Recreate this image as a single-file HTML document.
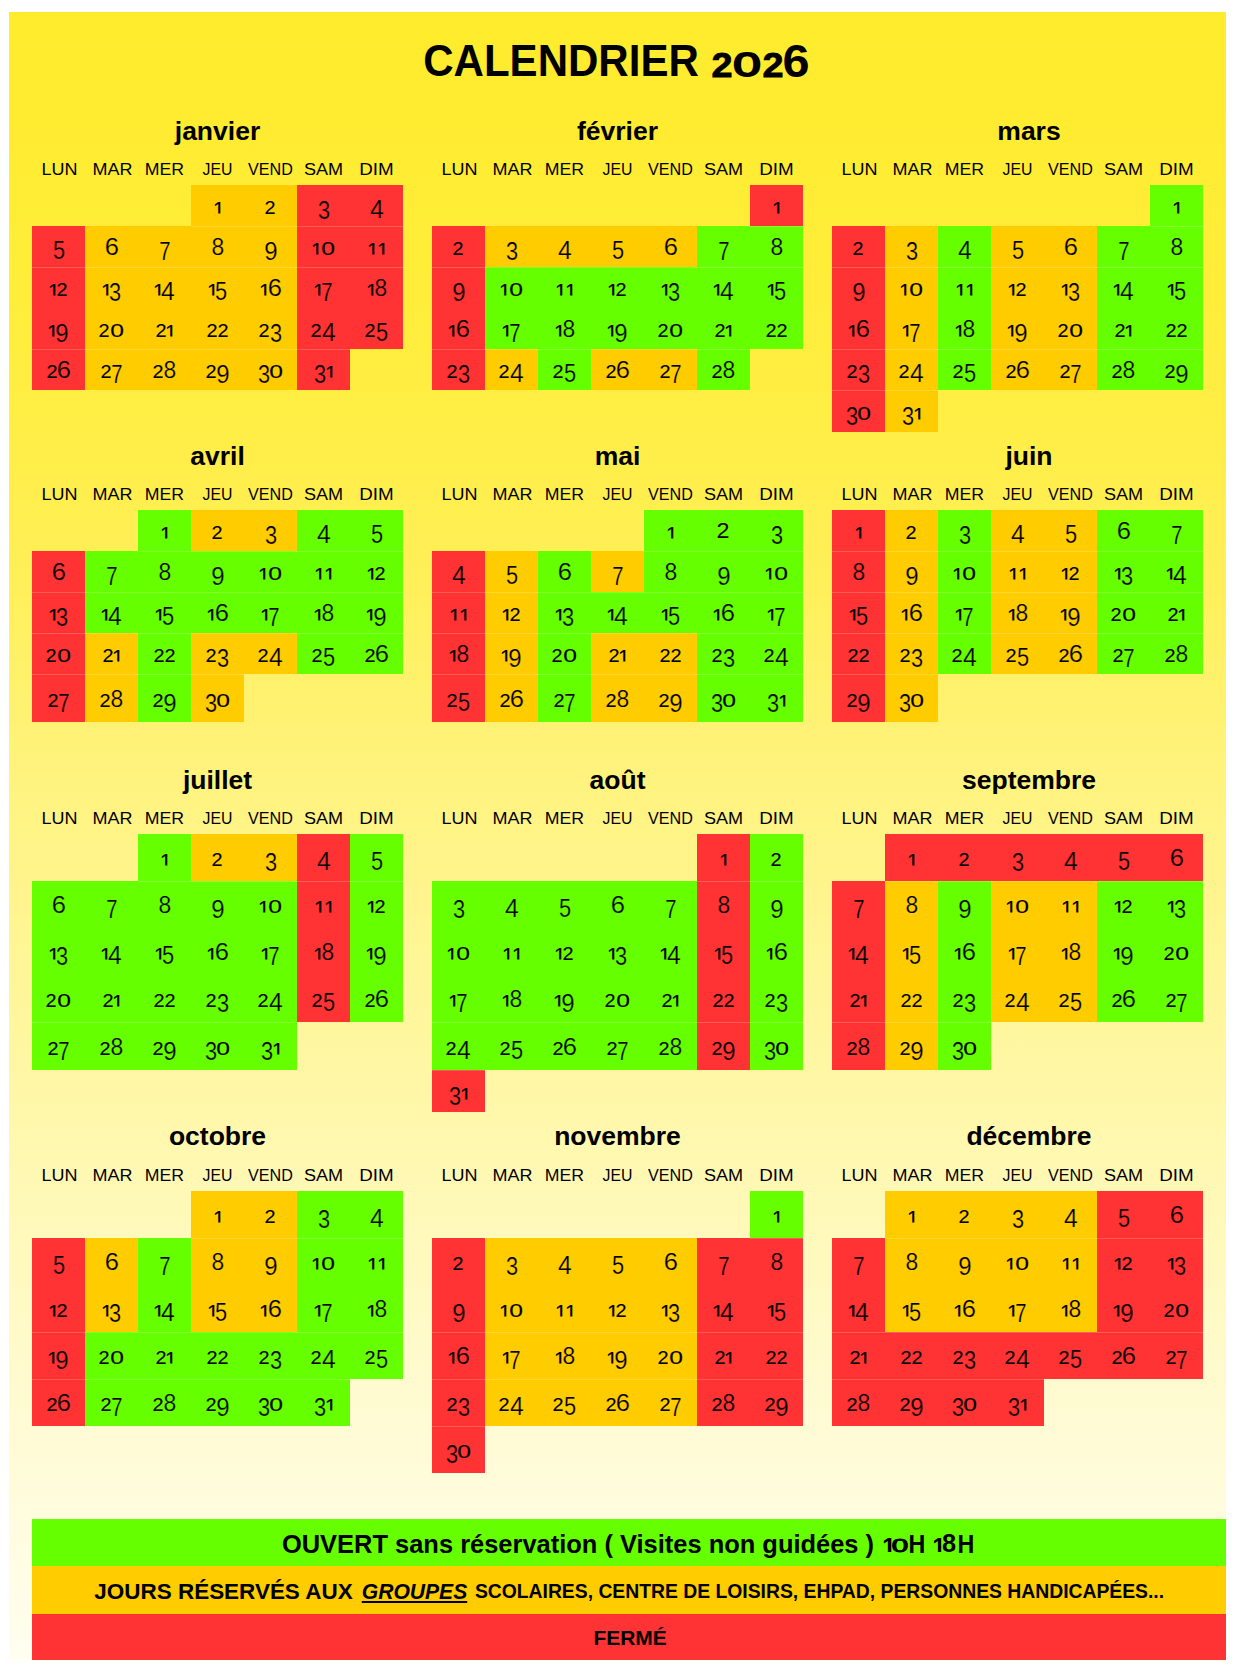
<!DOCTYPE html>
<html lang="fr"><head><meta charset="utf-8"><title>Calendrier 2026</title>
<style>
html,body{margin:0;padding:0}
body{width:1240px;height:1674px;position:relative;overflow:hidden;background:#fff;font-family:"Liberation Sans",sans-serif;color:#000}
#bg{position:absolute;left:9px;top:12px;width:1217px;height:1649px;background:linear-gradient(to bottom,#ffec2c 0%,#ffec30 5%,#ffed3a 17.5%,#ffee48 26.6%,#fff05c 35.7%,#fff273 43%,#fff37f 46.6%,#fff7a8 66%,#fff8b0 69%,#fffbd7 87.2%,#fffcdc 90%,#fffef0 100%)}
.c{position:absolute;width:53px;text-align:center;font-size:25px;white-space:nowrap}
.r{background:#ff3333}.o{background:#ffcc00}.g{background:#66ff00}
.c b{display:block;position:relative;top:-0.2px;font-weight:normal}
.c i{display:inline-block;font-style:normal;line-height:1}
.t{position:absolute;height:40px;line-height:40px;white-space:nowrap;text-align:center}
.m{font-weight:bold;font-size:26.5px;width:300px}
.w{font-size:15.8px;width:53px}
.lg{position:absolute;left:32px;width:1194px}
.s{position:absolute;height:1px;background:rgba(255,255,225,.2)}
.r i{-webkit-text-stroke-color:#ff3333}.o i{-webkit-text-stroke-color:#ffcc00}.g i{-webkit-text-stroke-color:#66ff00}

.w0{transform:scaleX(1.14)}
.w1{transform:scaleX(1.14)}
.w2{transform:scaleX(1.12)}
.w3{transform:scaleX(1.0)}
.w4{transform:scaleX(1.02)}
.w5{transform:scaleX(1.145)}
.w6{transform:scaleX(1.19)}
.c i.d0{font-size:18.4px;margin:0 1.83px;transform:translate(0px,0px) scaleX(1.34);-webkit-text-stroke:0.12px #000;}
.c i.d1{font-size:20.2px;margin:0 -1.77px;transform:translate(1.2px,1.95px) scaleX(1.03);-webkit-text-stroke:0.2px #000;clip-path:inset(0 0 5.45px 0);}
.c i.d2{font-size:18.4px;margin:0 0.48px;transform:translate(0px,0px) scaleX(1.08);-webkit-text-stroke:0.12px #000;}
.c i.d3{font-size:25px;margin:0 -0.85px;transform:translate(0px,5.2px) scaleX(0.87);-webkit-text-stroke-width:0.22px;}
.c i.d4{font-size:25px;margin:0 0.15px;transform:translate(0px,4.0px) scaleX(0.99);-webkit-text-stroke-width:0.22px;}
.c i.d5{font-size:25px;margin:0 -0.85px;transform:translate(0px,4.4px) scaleX(0.87);-webkit-text-stroke-width:0.22px;}
.c i.d6{font-size:24.6px;margin:0 -0.04px;transform:translate(0px,0px) scaleX(1.04);-webkit-text-stroke-width:0.22px;}
.c i.d7{font-size:25px;margin:0 -1.45px;transform:translate(0px,4.7px) scaleX(0.81);-webkit-text-stroke-width:0.22px;}
.c i.d8{font-size:24.6px;margin:0 -0.59px;transform:translate(0px,0px) scaleX(0.93);-webkit-text-stroke-width:0.22px;}
.c i.d9{font-size:25px;margin:0 -0.45px;transform:translate(0px,5.3px) scaleX(0.96);-webkit-text-stroke-width:0.22px;}
.c i.dL{font-size:21.8px;margin:0 -0.06px;transform:translate(0px,-1.5px) scaleX(1.07);}
</style></head>
<body>
<div id="bg"></div>
<div class="t" style="left:61.20px;width:1000px;top:41.42px;font-size:43.8px;transform:scaleX(0.96);font-weight:bold">CALENDRIER</div>
<div class="t" style="left:692.20px;width:60px;top:44.58px;font-size:34.7px;transform:scaleX(1.09);font-weight:bold;-webkit-text-stroke:0.8px #000;">2</div>
<div class="t" style="left:717.45px;width:60px;top:45.23px;font-size:32.8px;transform:scaleX(1.51);font-weight:normal;-webkit-text-stroke:1.8px #000;">0</div>
<div class="t" style="left:743.20px;width:60px;top:44.58px;font-size:34.7px;transform:scaleX(1.09);font-weight:bold;-webkit-text-stroke:0.8px #000;">2</div>
<div class="t" style="left:766.25px;width:60px;top:40.70px;font-size:45.9px;transform:scaleX(1.06);font-weight:bold;">6</div>
<div class="t m" style="left:67.5px;top:110.62px">janvier</div>
<div class="t w w0" style="left:33px;top:149.83px">LUN</div>
<div class="t w w1" style="left:85.5px;top:149.83px">MAR</div>
<div class="t w w2" style="left:138px;top:149.83px">MER</div>
<div class="t w w3" style="left:191px;top:149.83px">JEU</div>
<div class="t w w4" style="left:244px;top:149.83px">VEND</div>
<div class="t w w5" style="left:297px;top:149.83px">SAM</div>
<div class="t w w6" style="left:350px;top:149.83px">DIM</div>
<div class="c o" style="left:191px;top:185px;height:41px;line-height:41px"><b><i class="d1">1</i></b></div>
<div class="c o" style="left:244px;top:185px;height:41px;line-height:41px"><b><i class="d2">2</i></b></div>
<div class="c r" style="left:297px;top:185px;height:41px;line-height:41px"><b><i class="d3">3</i></b></div>
<div class="c r" style="left:350px;top:185px;height:41px;line-height:41px"><b><i class="d4">4</i></b></div>
<div class="c r" style="left:32px;top:226px;height:41px;line-height:41px"><b><i class="d5">5</i></b></div>
<div class="c o" style="left:85px;top:226px;height:41px;line-height:41px"><b><i class="d6">6</i></b></div>
<div class="c o" style="left:138px;top:226px;height:41px;line-height:41px"><b><i class="d7">7</i></b></div>
<div class="c o" style="left:191px;top:226px;height:41px;line-height:41px"><b><i class="d8">8</i></b></div>
<div class="c o" style="left:244px;top:226px;height:41px;line-height:41px"><b><i class="d9">9</i></b></div>
<div class="c r" style="left:297px;top:226px;height:41px;line-height:41px"><b><i class="d1" style="margin-right:-0.47px">1</i><i class="d0">0</i></b></div>
<div class="c r" style="left:350px;top:226px;height:41px;line-height:41px"><b><i class="d1" style="margin-right:1.23px">1</i><i class="d1">1</i></b></div>
<div class="c r" style="left:32px;top:267px;height:41px;line-height:41px"><b><i class="d1">1</i><i class="d2">2</i></b></div>
<div class="c o" style="left:85px;top:267px;height:41px;line-height:41px"><b><i class="d1">1</i><i class="d3">3</i></b></div>
<div class="c o" style="left:138px;top:267px;height:41px;line-height:41px"><b><i class="d1">1</i><i class="d4">4</i></b></div>
<div class="c o" style="left:191px;top:267px;height:41px;line-height:41px"><b><i class="d1">1</i><i class="d5">5</i></b></div>
<div class="c o" style="left:244px;top:267px;height:41px;line-height:41px"><b><i class="d1">1</i><i class="d6">6</i></b></div>
<div class="c r" style="left:297px;top:267px;height:41px;line-height:41px"><b><i class="d1">1</i><i class="d7">7</i></b></div>
<div class="c r" style="left:350px;top:267px;height:41px;line-height:41px"><b><i class="d1">1</i><i class="d8">8</i></b></div>
<div class="c r" style="left:32px;top:308px;height:41px;line-height:41px"><b><i class="d1">1</i><i class="d9">9</i></b></div>
<div class="c o" style="left:85px;top:308px;height:41px;line-height:41px"><b><i class="d2">2</i><i class="d0">0</i></b></div>
<div class="c o" style="left:138px;top:308px;height:41px;line-height:41px"><b><i class="d2">2</i><i class="d1">1</i></b></div>
<div class="c o" style="left:191px;top:308px;height:41px;line-height:41px"><b><i class="d2">2</i><i class="d2">2</i></b></div>
<div class="c o" style="left:244px;top:308px;height:41px;line-height:41px"><b><i class="d2">2</i><i class="d3">3</i></b></div>
<div class="c r" style="left:297px;top:308px;height:41px;line-height:41px"><b><i class="d2">2</i><i class="d4">4</i></b></div>
<div class="c r" style="left:350px;top:308px;height:41px;line-height:41px"><b><i class="d2">2</i><i class="d5">5</i></b></div>
<div class="c r" style="left:32px;top:349px;height:41px;line-height:41px"><b><i class="d2">2</i><i class="d6">6</i></b></div>
<div class="c o" style="left:85px;top:349px;height:41px;line-height:41px"><b><i class="d2">2</i><i class="d7">7</i></b></div>
<div class="c o" style="left:138px;top:349px;height:41px;line-height:41px"><b><i class="d2">2</i><i class="d8">8</i></b></div>
<div class="c o" style="left:191px;top:349px;height:41px;line-height:41px"><b><i class="d2">2</i><i class="d9">9</i></b></div>
<div class="c o" style="left:244px;top:349px;height:41px;line-height:41px"><b><i class="d3">3</i><i class="d0">0</i></b></div>
<div class="c r" style="left:297px;top:349px;height:41px;line-height:41px"><b><i class="d3">3</i><i class="d1">1</i></b></div>
<div class="t m" style="left:467.5px;top:110.62px">février</div>
<div class="t w w0" style="left:433px;top:149.83px">LUN</div>
<div class="t w w1" style="left:485.5px;top:149.83px">MAR</div>
<div class="t w w2" style="left:538px;top:149.83px">MER</div>
<div class="t w w3" style="left:591px;top:149.83px">JEU</div>
<div class="t w w4" style="left:644px;top:149.83px">VEND</div>
<div class="t w w5" style="left:697px;top:149.83px">SAM</div>
<div class="t w w6" style="left:750px;top:149.83px">DIM</div>
<div class="c r" style="left:750px;top:185px;height:41px;line-height:41px"><b><i class="d1">1</i></b></div>
<div class="c r" style="left:432px;top:226px;height:41px;line-height:41px"><b><i class="d2">2</i></b></div>
<div class="c o" style="left:485px;top:226px;height:41px;line-height:41px"><b><i class="d3">3</i></b></div>
<div class="c o" style="left:538px;top:226px;height:41px;line-height:41px"><b><i class="d4">4</i></b></div>
<div class="c o" style="left:591px;top:226px;height:41px;line-height:41px"><b><i class="d5">5</i></b></div>
<div class="c o" style="left:644px;top:226px;height:41px;line-height:41px"><b><i class="d6">6</i></b></div>
<div class="c g" style="left:697px;top:226px;height:41px;line-height:41px"><b><i class="d7">7</i></b></div>
<div class="c g" style="left:750px;top:226px;height:41px;line-height:41px"><b><i class="d8">8</i></b></div>
<div class="c r" style="left:432px;top:267px;height:41px;line-height:41px"><b><i class="d9">9</i></b></div>
<div class="c g" style="left:485px;top:267px;height:41px;line-height:41px"><b><i class="d1" style="margin-right:-0.47px">1</i><i class="d0">0</i></b></div>
<div class="c g" style="left:538px;top:267px;height:41px;line-height:41px"><b><i class="d1" style="margin-right:1.23px">1</i><i class="d1">1</i></b></div>
<div class="c g" style="left:591px;top:267px;height:41px;line-height:41px"><b><i class="d1">1</i><i class="d2">2</i></b></div>
<div class="c g" style="left:644px;top:267px;height:41px;line-height:41px"><b><i class="d1">1</i><i class="d3">3</i></b></div>
<div class="c g" style="left:697px;top:267px;height:41px;line-height:41px"><b><i class="d1">1</i><i class="d4">4</i></b></div>
<div class="c g" style="left:750px;top:267px;height:41px;line-height:41px"><b><i class="d1">1</i><i class="d5">5</i></b></div>
<div class="c r" style="left:432px;top:308px;height:41px;line-height:41px"><b><i class="d1">1</i><i class="d6">6</i></b></div>
<div class="c g" style="left:485px;top:308px;height:41px;line-height:41px"><b><i class="d1">1</i><i class="d7">7</i></b></div>
<div class="c g" style="left:538px;top:308px;height:41px;line-height:41px"><b><i class="d1">1</i><i class="d8">8</i></b></div>
<div class="c g" style="left:591px;top:308px;height:41px;line-height:41px"><b><i class="d1">1</i><i class="d9">9</i></b></div>
<div class="c g" style="left:644px;top:308px;height:41px;line-height:41px"><b><i class="d2">2</i><i class="d0">0</i></b></div>
<div class="c g" style="left:697px;top:308px;height:41px;line-height:41px"><b><i class="d2">2</i><i class="d1">1</i></b></div>
<div class="c g" style="left:750px;top:308px;height:41px;line-height:41px"><b><i class="d2">2</i><i class="d2">2</i></b></div>
<div class="c r" style="left:432px;top:349px;height:41px;line-height:41px"><b><i class="d2">2</i><i class="d3">3</i></b></div>
<div class="c o" style="left:485px;top:349px;height:41px;line-height:41px"><b><i class="d2">2</i><i class="d4">4</i></b></div>
<div class="c g" style="left:538px;top:349px;height:41px;line-height:41px"><b><i class="d2">2</i><i class="d5">5</i></b></div>
<div class="c o" style="left:591px;top:349px;height:41px;line-height:41px"><b><i class="d2">2</i><i class="d6">6</i></b></div>
<div class="c o" style="left:644px;top:349px;height:41px;line-height:41px"><b><i class="d2">2</i><i class="d7">7</i></b></div>
<div class="c g" style="left:697px;top:349px;height:41px;line-height:41px"><b><i class="d2">2</i><i class="d8">8</i></b></div>
<div class="t m" style="left:879px;top:110.62px">mars</div>
<div class="t w w0" style="left:833px;top:149.83px">LUN</div>
<div class="t w w1" style="left:885.5px;top:149.83px">MAR</div>
<div class="t w w2" style="left:938px;top:149.83px">MER</div>
<div class="t w w3" style="left:991px;top:149.83px">JEU</div>
<div class="t w w4" style="left:1044px;top:149.83px">VEND</div>
<div class="t w w5" style="left:1097px;top:149.83px">SAM</div>
<div class="t w w6" style="left:1150px;top:149.83px">DIM</div>
<div class="c g" style="left:1150px;top:185px;height:41px;line-height:41px"><b><i class="d1">1</i></b></div>
<div class="c r" style="left:832px;top:226px;height:41px;line-height:41px"><b><i class="d2">2</i></b></div>
<div class="c o" style="left:885px;top:226px;height:41px;line-height:41px"><b><i class="d3">3</i></b></div>
<div class="c g" style="left:938px;top:226px;height:41px;line-height:41px"><b><i class="d4">4</i></b></div>
<div class="c o" style="left:991px;top:226px;height:41px;line-height:41px"><b><i class="d5">5</i></b></div>
<div class="c o" style="left:1044px;top:226px;height:41px;line-height:41px"><b><i class="d6">6</i></b></div>
<div class="c g" style="left:1097px;top:226px;height:41px;line-height:41px"><b><i class="d7">7</i></b></div>
<div class="c g" style="left:1150px;top:226px;height:41px;line-height:41px"><b><i class="d8">8</i></b></div>
<div class="c r" style="left:832px;top:267px;height:41px;line-height:41px"><b><i class="d9">9</i></b></div>
<div class="c o" style="left:885px;top:267px;height:41px;line-height:41px"><b><i class="d1" style="margin-right:-0.47px">1</i><i class="d0">0</i></b></div>
<div class="c g" style="left:938px;top:267px;height:41px;line-height:41px"><b><i class="d1" style="margin-right:1.23px">1</i><i class="d1">1</i></b></div>
<div class="c o" style="left:991px;top:267px;height:41px;line-height:41px"><b><i class="d1">1</i><i class="d2">2</i></b></div>
<div class="c o" style="left:1044px;top:267px;height:41px;line-height:41px"><b><i class="d1">1</i><i class="d3">3</i></b></div>
<div class="c g" style="left:1097px;top:267px;height:41px;line-height:41px"><b><i class="d1">1</i><i class="d4">4</i></b></div>
<div class="c g" style="left:1150px;top:267px;height:41px;line-height:41px"><b><i class="d1">1</i><i class="d5">5</i></b></div>
<div class="c r" style="left:832px;top:308px;height:41px;line-height:41px"><b><i class="d1">1</i><i class="d6">6</i></b></div>
<div class="c o" style="left:885px;top:308px;height:41px;line-height:41px"><b><i class="d1">1</i><i class="d7">7</i></b></div>
<div class="c g" style="left:938px;top:308px;height:41px;line-height:41px"><b><i class="d1">1</i><i class="d8">8</i></b></div>
<div class="c o" style="left:991px;top:308px;height:41px;line-height:41px"><b><i class="d1">1</i><i class="d9">9</i></b></div>
<div class="c o" style="left:1044px;top:308px;height:41px;line-height:41px"><b><i class="d2">2</i><i class="d0">0</i></b></div>
<div class="c g" style="left:1097px;top:308px;height:41px;line-height:41px"><b><i class="d2">2</i><i class="d1">1</i></b></div>
<div class="c g" style="left:1150px;top:308px;height:41px;line-height:41px"><b><i class="d2">2</i><i class="d2">2</i></b></div>
<div class="c r" style="left:832px;top:349px;height:41px;line-height:41px"><b><i class="d2">2</i><i class="d3">3</i></b></div>
<div class="c o" style="left:885px;top:349px;height:41px;line-height:41px"><b><i class="d2">2</i><i class="d4">4</i></b></div>
<div class="c g" style="left:938px;top:349px;height:41px;line-height:41px"><b><i class="d2">2</i><i class="d5">5</i></b></div>
<div class="c o" style="left:991px;top:349px;height:41px;line-height:41px"><b><i class="d2">2</i><i class="d6">6</i></b></div>
<div class="c o" style="left:1044px;top:349px;height:41px;line-height:41px"><b><i class="d2">2</i><i class="d7">7</i></b></div>
<div class="c g" style="left:1097px;top:349px;height:41px;line-height:41px"><b><i class="d2">2</i><i class="d8">8</i></b></div>
<div class="c g" style="left:1150px;top:349px;height:41px;line-height:41px"><b><i class="d2">2</i><i class="d9">9</i></b></div>
<div class="c r" style="left:832px;top:390px;height:42px;line-height:42px"><b><i class="d3">3</i><i class="d0">0</i></b></div>
<div class="c o" style="left:885px;top:390px;height:42px;line-height:42px"><b><i class="d3">3</i><i class="d1">1</i></b></div>
<div class="t m" style="left:67.5px;top:435.62px">avril</div>
<div class="t w w0" style="left:33px;top:474.83px">LUN</div>
<div class="t w w1" style="left:85.5px;top:474.83px">MAR</div>
<div class="t w w2" style="left:138px;top:474.83px">MER</div>
<div class="t w w3" style="left:191px;top:474.83px">JEU</div>
<div class="t w w4" style="left:244px;top:474.83px">VEND</div>
<div class="t w w5" style="left:297px;top:474.83px">SAM</div>
<div class="t w w6" style="left:350px;top:474.83px">DIM</div>
<div class="c g" style="left:138px;top:510px;height:41px;line-height:41px"><b><i class="d1">1</i></b></div>
<div class="c o" style="left:191px;top:510px;height:41px;line-height:41px"><b><i class="d2">2</i></b></div>
<div class="c o" style="left:244px;top:510px;height:41px;line-height:41px"><b><i class="d3">3</i></b></div>
<div class="c g" style="left:297px;top:510px;height:41px;line-height:41px"><b><i class="d4">4</i></b></div>
<div class="c g" style="left:350px;top:510px;height:41px;line-height:41px"><b><i class="d5">5</i></b></div>
<div class="c r" style="left:32px;top:551px;height:41px;line-height:41px"><b><i class="d6">6</i></b></div>
<div class="c g" style="left:85px;top:551px;height:41px;line-height:41px"><b><i class="d7">7</i></b></div>
<div class="c g" style="left:138px;top:551px;height:41px;line-height:41px"><b><i class="d8">8</i></b></div>
<div class="c g" style="left:191px;top:551px;height:41px;line-height:41px"><b><i class="d9">9</i></b></div>
<div class="c g" style="left:244px;top:551px;height:41px;line-height:41px"><b><i class="d1" style="margin-right:-0.47px">1</i><i class="d0">0</i></b></div>
<div class="c g" style="left:297px;top:551px;height:41px;line-height:41px"><b><i class="d1" style="margin-right:1.23px">1</i><i class="d1">1</i></b></div>
<div class="c g" style="left:350px;top:551px;height:41px;line-height:41px"><b><i class="d1">1</i><i class="d2">2</i></b></div>
<div class="c r" style="left:32px;top:592px;height:41px;line-height:41px"><b><i class="d1">1</i><i class="d3">3</i></b></div>
<div class="c g" style="left:85px;top:592px;height:41px;line-height:41px"><b><i class="d1">1</i><i class="d4">4</i></b></div>
<div class="c g" style="left:138px;top:592px;height:41px;line-height:41px"><b><i class="d1">1</i><i class="d5">5</i></b></div>
<div class="c g" style="left:191px;top:592px;height:41px;line-height:41px"><b><i class="d1">1</i><i class="d6">6</i></b></div>
<div class="c g" style="left:244px;top:592px;height:41px;line-height:41px"><b><i class="d1">1</i><i class="d7">7</i></b></div>
<div class="c g" style="left:297px;top:592px;height:41px;line-height:41px"><b><i class="d1">1</i><i class="d8">8</i></b></div>
<div class="c g" style="left:350px;top:592px;height:41px;line-height:41px"><b><i class="d1">1</i><i class="d9">9</i></b></div>
<div class="c r" style="left:32px;top:633px;height:41px;line-height:41px"><b><i class="d2">2</i><i class="d0">0</i></b></div>
<div class="c o" style="left:85px;top:633px;height:41px;line-height:41px"><b><i class="d2">2</i><i class="d1">1</i></b></div>
<div class="c g" style="left:138px;top:633px;height:41px;line-height:41px"><b><i class="d2">2</i><i class="d2">2</i></b></div>
<div class="c o" style="left:191px;top:633px;height:41px;line-height:41px"><b><i class="d2">2</i><i class="d3">3</i></b></div>
<div class="c o" style="left:244px;top:633px;height:41px;line-height:41px"><b><i class="d2">2</i><i class="d4">4</i></b></div>
<div class="c g" style="left:297px;top:633px;height:41px;line-height:41px"><b><i class="d2">2</i><i class="d5">5</i></b></div>
<div class="c g" style="left:350px;top:633px;height:41px;line-height:41px"><b><i class="d2">2</i><i class="d6">6</i></b></div>
<div class="c r" style="left:32px;top:674px;height:48px;line-height:48px"><b><i class="d2">2</i><i class="d7">7</i></b></div>
<div class="c o" style="left:85px;top:674px;height:48px;line-height:48px"><b><i class="d2">2</i><i class="d8">8</i></b></div>
<div class="c g" style="left:138px;top:674px;height:48px;line-height:48px"><b><i class="d2">2</i><i class="d9">9</i></b></div>
<div class="c o" style="left:191px;top:674px;height:48px;line-height:48px"><b><i class="d3">3</i><i class="d0">0</i></b></div>
<div class="t m" style="left:467.5px;top:435.62px">mai</div>
<div class="t w w0" style="left:433px;top:474.83px">LUN</div>
<div class="t w w1" style="left:485.5px;top:474.83px">MAR</div>
<div class="t w w2" style="left:538px;top:474.83px">MER</div>
<div class="t w w3" style="left:591px;top:474.83px">JEU</div>
<div class="t w w4" style="left:644px;top:474.83px">VEND</div>
<div class="t w w5" style="left:697px;top:474.83px">SAM</div>
<div class="t w w6" style="left:750px;top:474.83px">DIM</div>
<div class="c g" style="left:644px;top:510px;height:41px;line-height:41px"><b><i class="d1">1</i></b></div>
<div class="c g" style="left:697px;top:510px;height:41px;line-height:41px"><b><i class="dL">2</i></b></div>
<div class="c g" style="left:750px;top:510px;height:41px;line-height:41px"><b><i class="d3">3</i></b></div>
<div class="c r" style="left:432px;top:551px;height:41px;line-height:41px"><b><i class="d4">4</i></b></div>
<div class="c o" style="left:485px;top:551px;height:41px;line-height:41px"><b><i class="d5">5</i></b></div>
<div class="c g" style="left:538px;top:551px;height:41px;line-height:41px"><b><i class="d6">6</i></b></div>
<div class="c o" style="left:591px;top:551px;height:41px;line-height:41px"><b><i class="d7">7</i></b></div>
<div class="c g" style="left:644px;top:551px;height:41px;line-height:41px"><b><i class="d8">8</i></b></div>
<div class="c g" style="left:697px;top:551px;height:41px;line-height:41px"><b><i class="d9">9</i></b></div>
<div class="c g" style="left:750px;top:551px;height:41px;line-height:41px"><b><i class="d1" style="margin-right:-0.47px">1</i><i class="d0">0</i></b></div>
<div class="c r" style="left:432px;top:592px;height:41px;line-height:41px"><b><i class="d1" style="margin-right:1.23px">1</i><i class="d1">1</i></b></div>
<div class="c o" style="left:485px;top:592px;height:41px;line-height:41px"><b><i class="d1">1</i><i class="d2">2</i></b></div>
<div class="c g" style="left:538px;top:592px;height:41px;line-height:41px"><b><i class="d1">1</i><i class="d3">3</i></b></div>
<div class="c g" style="left:591px;top:592px;height:41px;line-height:41px"><b><i class="d1">1</i><i class="d4">4</i></b></div>
<div class="c g" style="left:644px;top:592px;height:41px;line-height:41px"><b><i class="d1">1</i><i class="d5">5</i></b></div>
<div class="c g" style="left:697px;top:592px;height:41px;line-height:41px"><b><i class="d1">1</i><i class="d6">6</i></b></div>
<div class="c g" style="left:750px;top:592px;height:41px;line-height:41px"><b><i class="d1">1</i><i class="d7">7</i></b></div>
<div class="c r" style="left:432px;top:633px;height:41px;line-height:41px"><b><i class="d1">1</i><i class="d8">8</i></b></div>
<div class="c o" style="left:485px;top:633px;height:41px;line-height:41px"><b><i class="d1">1</i><i class="d9">9</i></b></div>
<div class="c g" style="left:538px;top:633px;height:41px;line-height:41px"><b><i class="d2">2</i><i class="d0">0</i></b></div>
<div class="c o" style="left:591px;top:633px;height:41px;line-height:41px"><b><i class="d2">2</i><i class="d1">1</i></b></div>
<div class="c o" style="left:644px;top:633px;height:41px;line-height:41px"><b><i class="d2">2</i><i class="d2">2</i></b></div>
<div class="c g" style="left:697px;top:633px;height:41px;line-height:41px"><b><i class="d2">2</i><i class="d3">3</i></b></div>
<div class="c g" style="left:750px;top:633px;height:41px;line-height:41px"><b><i class="d2">2</i><i class="d4">4</i></b></div>
<div class="c r" style="left:432px;top:674px;height:48px;line-height:48px"><b><i class="d2">2</i><i class="d5">5</i></b></div>
<div class="c o" style="left:485px;top:674px;height:48px;line-height:48px"><b><i class="d2">2</i><i class="d6">6</i></b></div>
<div class="c g" style="left:538px;top:674px;height:48px;line-height:48px"><b><i class="d2">2</i><i class="d7">7</i></b></div>
<div class="c o" style="left:591px;top:674px;height:48px;line-height:48px"><b><i class="d2">2</i><i class="d8">8</i></b></div>
<div class="c o" style="left:644px;top:674px;height:48px;line-height:48px"><b><i class="d2">2</i><i class="d9">9</i></b></div>
<div class="c g" style="left:697px;top:674px;height:48px;line-height:48px"><b><i class="d3">3</i><i class="d0">0</i></b></div>
<div class="c g" style="left:750px;top:674px;height:48px;line-height:48px"><b><i class="d3">3</i><i class="d1">1</i></b></div>
<div class="t m" style="left:879px;top:435.62px">juin</div>
<div class="t w w0" style="left:833px;top:474.83px">LUN</div>
<div class="t w w1" style="left:885.5px;top:474.83px">MAR</div>
<div class="t w w2" style="left:938px;top:474.83px">MER</div>
<div class="t w w3" style="left:991px;top:474.83px">JEU</div>
<div class="t w w4" style="left:1044px;top:474.83px">VEND</div>
<div class="t w w5" style="left:1097px;top:474.83px">SAM</div>
<div class="t w w6" style="left:1150px;top:474.83px">DIM</div>
<div class="c r" style="left:832px;top:510px;height:41px;line-height:41px"><b><i class="d1">1</i></b></div>
<div class="c o" style="left:885px;top:510px;height:41px;line-height:41px"><b><i class="d2">2</i></b></div>
<div class="c g" style="left:938px;top:510px;height:41px;line-height:41px"><b><i class="d3">3</i></b></div>
<div class="c o" style="left:991px;top:510px;height:41px;line-height:41px"><b><i class="d4">4</i></b></div>
<div class="c o" style="left:1044px;top:510px;height:41px;line-height:41px"><b><i class="d5">5</i></b></div>
<div class="c g" style="left:1097px;top:510px;height:41px;line-height:41px"><b><i class="d6">6</i></b></div>
<div class="c g" style="left:1150px;top:510px;height:41px;line-height:41px"><b><i class="d7">7</i></b></div>
<div class="c r" style="left:832px;top:551px;height:41px;line-height:41px"><b><i class="d8">8</i></b></div>
<div class="c o" style="left:885px;top:551px;height:41px;line-height:41px"><b><i class="d9">9</i></b></div>
<div class="c g" style="left:938px;top:551px;height:41px;line-height:41px"><b><i class="d1" style="margin-right:-0.47px">1</i><i class="d0">0</i></b></div>
<div class="c o" style="left:991px;top:551px;height:41px;line-height:41px"><b><i class="d1" style="margin-right:1.23px">1</i><i class="d1">1</i></b></div>
<div class="c o" style="left:1044px;top:551px;height:41px;line-height:41px"><b><i class="d1">1</i><i class="d2">2</i></b></div>
<div class="c g" style="left:1097px;top:551px;height:41px;line-height:41px"><b><i class="d1">1</i><i class="d3">3</i></b></div>
<div class="c g" style="left:1150px;top:551px;height:41px;line-height:41px"><b><i class="d1">1</i><i class="d4">4</i></b></div>
<div class="c r" style="left:832px;top:592px;height:41px;line-height:41px"><b><i class="d1">1</i><i class="d5">5</i></b></div>
<div class="c o" style="left:885px;top:592px;height:41px;line-height:41px"><b><i class="d1">1</i><i class="d6">6</i></b></div>
<div class="c g" style="left:938px;top:592px;height:41px;line-height:41px"><b><i class="d1">1</i><i class="d7">7</i></b></div>
<div class="c o" style="left:991px;top:592px;height:41px;line-height:41px"><b><i class="d1">1</i><i class="d8">8</i></b></div>
<div class="c o" style="left:1044px;top:592px;height:41px;line-height:41px"><b><i class="d1">1</i><i class="d9">9</i></b></div>
<div class="c g" style="left:1097px;top:592px;height:41px;line-height:41px"><b><i class="d2">2</i><i class="d0">0</i></b></div>
<div class="c g" style="left:1150px;top:592px;height:41px;line-height:41px"><b><i class="d2">2</i><i class="d1">1</i></b></div>
<div class="c r" style="left:832px;top:633px;height:41px;line-height:41px"><b><i class="d2">2</i><i class="d2">2</i></b></div>
<div class="c o" style="left:885px;top:633px;height:41px;line-height:41px"><b><i class="d2">2</i><i class="d3">3</i></b></div>
<div class="c g" style="left:938px;top:633px;height:41px;line-height:41px"><b><i class="d2">2</i><i class="d4">4</i></b></div>
<div class="c o" style="left:991px;top:633px;height:41px;line-height:41px"><b><i class="d2">2</i><i class="d5">5</i></b></div>
<div class="c o" style="left:1044px;top:633px;height:41px;line-height:41px"><b><i class="d2">2</i><i class="d6">6</i></b></div>
<div class="c g" style="left:1097px;top:633px;height:41px;line-height:41px"><b><i class="d2">2</i><i class="d7">7</i></b></div>
<div class="c g" style="left:1150px;top:633px;height:41px;line-height:41px"><b><i class="d2">2</i><i class="d8">8</i></b></div>
<div class="c r" style="left:832px;top:674px;height:48px;line-height:48px"><b><i class="d2">2</i><i class="d9">9</i></b></div>
<div class="c o" style="left:885px;top:674px;height:48px;line-height:48px"><b><i class="d3">3</i><i class="d0">0</i></b></div>
<div class="t m" style="left:67.5px;top:760.02px">juillet</div>
<div class="t w w0" style="left:33px;top:799.23px">LUN</div>
<div class="t w w1" style="left:85.5px;top:799.23px">MAR</div>
<div class="t w w2" style="left:138px;top:799.23px">MER</div>
<div class="t w w3" style="left:191px;top:799.23px">JEU</div>
<div class="t w w4" style="left:244px;top:799.23px">VEND</div>
<div class="t w w5" style="left:297px;top:799.23px">SAM</div>
<div class="t w w6" style="left:350px;top:799.23px">DIM</div>
<div class="c g" style="left:138px;top:834px;height:47px;line-height:47px"><b><i class="d1">1</i></b></div>
<div class="c o" style="left:191px;top:834px;height:47px;line-height:47px"><b><i class="d2">2</i></b></div>
<div class="c o" style="left:244px;top:834px;height:47px;line-height:47px"><b><i class="d3">3</i></b></div>
<div class="c r" style="left:297px;top:834px;height:47px;line-height:47px"><b><i class="d4">4</i></b></div>
<div class="c g" style="left:350px;top:834px;height:47px;line-height:47px"><b><i class="d5">5</i></b></div>
<div class="c g" style="left:32px;top:881px;height:47px;line-height:47px"><b><i class="d6">6</i></b></div>
<div class="c g" style="left:85px;top:881px;height:47px;line-height:47px"><b><i class="d7">7</i></b></div>
<div class="c g" style="left:138px;top:881px;height:47px;line-height:47px"><b><i class="d8">8</i></b></div>
<div class="c g" style="left:191px;top:881px;height:47px;line-height:47px"><b><i class="d9">9</i></b></div>
<div class="c g" style="left:244px;top:881px;height:47px;line-height:47px"><b><i class="d1" style="margin-right:-0.47px">1</i><i class="d0">0</i></b></div>
<div class="c r" style="left:297px;top:881px;height:47px;line-height:47px"><b><i class="d1" style="margin-right:1.23px">1</i><i class="d1">1</i></b></div>
<div class="c g" style="left:350px;top:881px;height:47px;line-height:47px"><b><i class="d1">1</i><i class="d2">2</i></b></div>
<div class="c g" style="left:32px;top:928px;height:47px;line-height:47px"><b><i class="d1">1</i><i class="d3">3</i></b></div>
<div class="c g" style="left:85px;top:928px;height:47px;line-height:47px"><b><i class="d1">1</i><i class="d4">4</i></b></div>
<div class="c g" style="left:138px;top:928px;height:47px;line-height:47px"><b><i class="d1">1</i><i class="d5">5</i></b></div>
<div class="c g" style="left:191px;top:928px;height:47px;line-height:47px"><b><i class="d1">1</i><i class="d6">6</i></b></div>
<div class="c g" style="left:244px;top:928px;height:47px;line-height:47px"><b><i class="d1">1</i><i class="d7">7</i></b></div>
<div class="c r" style="left:297px;top:928px;height:47px;line-height:47px"><b><i class="d1">1</i><i class="d8">8</i></b></div>
<div class="c g" style="left:350px;top:928px;height:47px;line-height:47px"><b><i class="d1">1</i><i class="d9">9</i></b></div>
<div class="c g" style="left:32px;top:975px;height:47px;line-height:47px"><b><i class="d2">2</i><i class="d0">0</i></b></div>
<div class="c g" style="left:85px;top:975px;height:47px;line-height:47px"><b><i class="d2">2</i><i class="d1">1</i></b></div>
<div class="c g" style="left:138px;top:975px;height:47px;line-height:47px"><b><i class="d2">2</i><i class="d2">2</i></b></div>
<div class="c g" style="left:191px;top:975px;height:47px;line-height:47px"><b><i class="d2">2</i><i class="d3">3</i></b></div>
<div class="c g" style="left:244px;top:975px;height:47px;line-height:47px"><b><i class="d2">2</i><i class="d4">4</i></b></div>
<div class="c r" style="left:297px;top:975px;height:47px;line-height:47px"><b><i class="d2">2</i><i class="d5">5</i></b></div>
<div class="c g" style="left:350px;top:975px;height:47px;line-height:47px"><b><i class="d2">2</i><i class="d6">6</i></b></div>
<div class="c g" style="left:32px;top:1022px;height:48px;line-height:48px"><b><i class="d2">2</i><i class="d7">7</i></b></div>
<div class="c g" style="left:85px;top:1022px;height:48px;line-height:48px"><b><i class="d2">2</i><i class="d8">8</i></b></div>
<div class="c g" style="left:138px;top:1022px;height:48px;line-height:48px"><b><i class="d2">2</i><i class="d9">9</i></b></div>
<div class="c g" style="left:191px;top:1022px;height:48px;line-height:48px"><b><i class="d3">3</i><i class="d0">0</i></b></div>
<div class="c g" style="left:244px;top:1022px;height:48px;line-height:48px"><b><i class="d3">3</i><i class="d1">1</i></b></div>
<div class="t m" style="left:467.5px;top:760.02px">août</div>
<div class="t w w0" style="left:433px;top:799.23px">LUN</div>
<div class="t w w1" style="left:485.5px;top:799.23px">MAR</div>
<div class="t w w2" style="left:538px;top:799.23px">MER</div>
<div class="t w w3" style="left:591px;top:799.23px">JEU</div>
<div class="t w w4" style="left:644px;top:799.23px">VEND</div>
<div class="t w w5" style="left:697px;top:799.23px">SAM</div>
<div class="t w w6" style="left:750px;top:799.23px">DIM</div>
<div class="c r" style="left:697px;top:834px;height:47px;line-height:47px"><b><i class="d1">1</i></b></div>
<div class="c g" style="left:750px;top:834px;height:47px;line-height:47px"><b><i class="d2">2</i></b></div>
<div class="c g" style="left:432px;top:881px;height:47px;line-height:47px"><b><i class="d3">3</i></b></div>
<div class="c g" style="left:485px;top:881px;height:47px;line-height:47px"><b><i class="d4">4</i></b></div>
<div class="c g" style="left:538px;top:881px;height:47px;line-height:47px"><b><i class="d5">5</i></b></div>
<div class="c g" style="left:591px;top:881px;height:47px;line-height:47px"><b><i class="d6">6</i></b></div>
<div class="c g" style="left:644px;top:881px;height:47px;line-height:47px"><b><i class="d7">7</i></b></div>
<div class="c r" style="left:697px;top:881px;height:47px;line-height:47px"><b><i class="d8">8</i></b></div>
<div class="c g" style="left:750px;top:881px;height:47px;line-height:47px"><b><i class="d9">9</i></b></div>
<div class="c g" style="left:432px;top:928px;height:47px;line-height:47px"><b><i class="d1" style="margin-right:-0.47px">1</i><i class="d0">0</i></b></div>
<div class="c g" style="left:485px;top:928px;height:47px;line-height:47px"><b><i class="d1" style="margin-right:1.23px">1</i><i class="d1">1</i></b></div>
<div class="c g" style="left:538px;top:928px;height:47px;line-height:47px"><b><i class="d1">1</i><i class="d2">2</i></b></div>
<div class="c g" style="left:591px;top:928px;height:47px;line-height:47px"><b><i class="d1">1</i><i class="d3">3</i></b></div>
<div class="c g" style="left:644px;top:928px;height:47px;line-height:47px"><b><i class="d1">1</i><i class="d4">4</i></b></div>
<div class="c r" style="left:697px;top:928px;height:47px;line-height:47px"><b><i class="d1">1</i><i class="d5">5</i></b></div>
<div class="c g" style="left:750px;top:928px;height:47px;line-height:47px"><b><i class="d1">1</i><i class="d6">6</i></b></div>
<div class="c g" style="left:432px;top:975px;height:47px;line-height:47px"><b><i class="d1">1</i><i class="d7">7</i></b></div>
<div class="c g" style="left:485px;top:975px;height:47px;line-height:47px"><b><i class="d1">1</i><i class="d8">8</i></b></div>
<div class="c g" style="left:538px;top:975px;height:47px;line-height:47px"><b><i class="d1">1</i><i class="d9">9</i></b></div>
<div class="c g" style="left:591px;top:975px;height:47px;line-height:47px"><b><i class="d2">2</i><i class="d0">0</i></b></div>
<div class="c g" style="left:644px;top:975px;height:47px;line-height:47px"><b><i class="d2">2</i><i class="d1">1</i></b></div>
<div class="c r" style="left:697px;top:975px;height:47px;line-height:47px"><b><i class="d2">2</i><i class="d2">2</i></b></div>
<div class="c g" style="left:750px;top:975px;height:47px;line-height:47px"><b><i class="d2">2</i><i class="d3">3</i></b></div>
<div class="c g" style="left:432px;top:1022px;height:48px;line-height:48px"><b><i class="d2">2</i><i class="d4">4</i></b></div>
<div class="c g" style="left:485px;top:1022px;height:48px;line-height:48px"><b><i class="d2">2</i><i class="d5">5</i></b></div>
<div class="c g" style="left:538px;top:1022px;height:48px;line-height:48px"><b><i class="d2">2</i><i class="d6">6</i></b></div>
<div class="c g" style="left:591px;top:1022px;height:48px;line-height:48px"><b><i class="d2">2</i><i class="d7">7</i></b></div>
<div class="c g" style="left:644px;top:1022px;height:48px;line-height:48px"><b><i class="d2">2</i><i class="d8">8</i></b></div>
<div class="c r" style="left:697px;top:1022px;height:48px;line-height:48px"><b><i class="d2">2</i><i class="d9">9</i></b></div>
<div class="c g" style="left:750px;top:1022px;height:48px;line-height:48px"><b><i class="d3">3</i><i class="d0">0</i></b></div>
<div class="c r" style="left:432px;top:1070px;height:42px;line-height:42px"><b><i class="d3">3</i><i class="d1">1</i></b></div>
<div class="t m" style="left:879px;top:760.02px">septembre</div>
<div class="t w w0" style="left:833px;top:799.23px">LUN</div>
<div class="t w w1" style="left:885.5px;top:799.23px">MAR</div>
<div class="t w w2" style="left:938px;top:799.23px">MER</div>
<div class="t w w3" style="left:991px;top:799.23px">JEU</div>
<div class="t w w4" style="left:1044px;top:799.23px">VEND</div>
<div class="t w w5" style="left:1097px;top:799.23px">SAM</div>
<div class="t w w6" style="left:1150px;top:799.23px">DIM</div>
<div class="c r" style="left:885px;top:834px;height:47px;line-height:47px"><b><i class="d1">1</i></b></div>
<div class="c r" style="left:938px;top:834px;height:47px;line-height:47px"><b><i class="d2">2</i></b></div>
<div class="c r" style="left:991px;top:834px;height:47px;line-height:47px"><b><i class="d3">3</i></b></div>
<div class="c r" style="left:1044px;top:834px;height:47px;line-height:47px"><b><i class="d4">4</i></b></div>
<div class="c r" style="left:1097px;top:834px;height:47px;line-height:47px"><b><i class="d5">5</i></b></div>
<div class="c r" style="left:1150px;top:834px;height:47px;line-height:47px"><b><i class="d6">6</i></b></div>
<div class="c r" style="left:832px;top:881px;height:47px;line-height:47px"><b><i class="d7">7</i></b></div>
<div class="c o" style="left:885px;top:881px;height:47px;line-height:47px"><b><i class="d8">8</i></b></div>
<div class="c g" style="left:938px;top:881px;height:47px;line-height:47px"><b><i class="d9">9</i></b></div>
<div class="c o" style="left:991px;top:881px;height:47px;line-height:47px"><b><i class="d1" style="margin-right:-0.47px">1</i><i class="d0">0</i></b></div>
<div class="c o" style="left:1044px;top:881px;height:47px;line-height:47px"><b><i class="d1" style="margin-right:1.23px">1</i><i class="d1">1</i></b></div>
<div class="c g" style="left:1097px;top:881px;height:47px;line-height:47px"><b><i class="d1">1</i><i class="d2">2</i></b></div>
<div class="c g" style="left:1150px;top:881px;height:47px;line-height:47px"><b><i class="d1">1</i><i class="d3">3</i></b></div>
<div class="c r" style="left:832px;top:928px;height:47px;line-height:47px"><b><i class="d1">1</i><i class="d4">4</i></b></div>
<div class="c o" style="left:885px;top:928px;height:47px;line-height:47px"><b><i class="d1">1</i><i class="d5">5</i></b></div>
<div class="c g" style="left:938px;top:928px;height:47px;line-height:47px"><b><i class="d1">1</i><i class="d6">6</i></b></div>
<div class="c o" style="left:991px;top:928px;height:47px;line-height:47px"><b><i class="d1">1</i><i class="d7">7</i></b></div>
<div class="c o" style="left:1044px;top:928px;height:47px;line-height:47px"><b><i class="d1">1</i><i class="d8">8</i></b></div>
<div class="c g" style="left:1097px;top:928px;height:47px;line-height:47px"><b><i class="d1">1</i><i class="d9">9</i></b></div>
<div class="c g" style="left:1150px;top:928px;height:47px;line-height:47px"><b><i class="d2">2</i><i class="d0">0</i></b></div>
<div class="c r" style="left:832px;top:975px;height:47px;line-height:47px"><b><i class="d2">2</i><i class="d1">1</i></b></div>
<div class="c o" style="left:885px;top:975px;height:47px;line-height:47px"><b><i class="d2">2</i><i class="d2">2</i></b></div>
<div class="c g" style="left:938px;top:975px;height:47px;line-height:47px"><b><i class="d2">2</i><i class="d3">3</i></b></div>
<div class="c o" style="left:991px;top:975px;height:47px;line-height:47px"><b><i class="d2">2</i><i class="d4">4</i></b></div>
<div class="c o" style="left:1044px;top:975px;height:47px;line-height:47px"><b><i class="d2">2</i><i class="d5">5</i></b></div>
<div class="c g" style="left:1097px;top:975px;height:47px;line-height:47px"><b><i class="d2">2</i><i class="d6">6</i></b></div>
<div class="c g" style="left:1150px;top:975px;height:47px;line-height:47px"><b><i class="d2">2</i><i class="d7">7</i></b></div>
<div class="c r" style="left:832px;top:1022px;height:48px;line-height:48px"><b><i class="d2">2</i><i class="d8">8</i></b></div>
<div class="c o" style="left:885px;top:1022px;height:48px;line-height:48px"><b><i class="d2">2</i><i class="d9">9</i></b></div>
<div class="c g" style="left:938px;top:1022px;height:48px;line-height:48px"><b><i class="d3">3</i><i class="d0">0</i></b></div>
<div class="t m" style="left:67.5px;top:1116.32px">octobre</div>
<div class="t w w0" style="left:33px;top:1155.83px">LUN</div>
<div class="t w w1" style="left:85.5px;top:1155.83px">MAR</div>
<div class="t w w2" style="left:138px;top:1155.83px">MER</div>
<div class="t w w3" style="left:191px;top:1155.83px">JEU</div>
<div class="t w w4" style="left:244px;top:1155.83px">VEND</div>
<div class="t w w5" style="left:297px;top:1155.83px">SAM</div>
<div class="t w w6" style="left:350px;top:1155.83px">DIM</div>
<div class="c o" style="left:191px;top:1191px;height:47px;line-height:47px"><b><i class="d1">1</i></b></div>
<div class="c o" style="left:244px;top:1191px;height:47px;line-height:47px"><b><i class="d2">2</i></b></div>
<div class="c g" style="left:297px;top:1191px;height:47px;line-height:47px"><b><i class="d3">3</i></b></div>
<div class="c g" style="left:350px;top:1191px;height:47px;line-height:47px"><b><i class="d4">4</i></b></div>
<div class="c r" style="left:32px;top:1238px;height:47px;line-height:47px"><b><i class="d5">5</i></b></div>
<div class="c o" style="left:85px;top:1238px;height:47px;line-height:47px"><b><i class="d6">6</i></b></div>
<div class="c g" style="left:138px;top:1238px;height:47px;line-height:47px"><b><i class="d7">7</i></b></div>
<div class="c o" style="left:191px;top:1238px;height:47px;line-height:47px"><b><i class="d8">8</i></b></div>
<div class="c o" style="left:244px;top:1238px;height:47px;line-height:47px"><b><i class="d9">9</i></b></div>
<div class="c g" style="left:297px;top:1238px;height:47px;line-height:47px"><b><i class="d1" style="margin-right:-0.47px">1</i><i class="d0">0</i></b></div>
<div class="c g" style="left:350px;top:1238px;height:47px;line-height:47px"><b><i class="d1" style="margin-right:1.23px">1</i><i class="d1">1</i></b></div>
<div class="c r" style="left:32px;top:1285px;height:47px;line-height:47px"><b><i class="d1">1</i><i class="d2">2</i></b></div>
<div class="c o" style="left:85px;top:1285px;height:47px;line-height:47px"><b><i class="d1">1</i><i class="d3">3</i></b></div>
<div class="c g" style="left:138px;top:1285px;height:47px;line-height:47px"><b><i class="d1">1</i><i class="d4">4</i></b></div>
<div class="c o" style="left:191px;top:1285px;height:47px;line-height:47px"><b><i class="d1">1</i><i class="d5">5</i></b></div>
<div class="c o" style="left:244px;top:1285px;height:47px;line-height:47px"><b><i class="d1">1</i><i class="d6">6</i></b></div>
<div class="c g" style="left:297px;top:1285px;height:47px;line-height:47px"><b><i class="d1">1</i><i class="d7">7</i></b></div>
<div class="c g" style="left:350px;top:1285px;height:47px;line-height:47px"><b><i class="d1">1</i><i class="d8">8</i></b></div>
<div class="c r" style="left:32px;top:1332px;height:47px;line-height:47px"><b><i class="d1">1</i><i class="d9">9</i></b></div>
<div class="c g" style="left:85px;top:1332px;height:47px;line-height:47px"><b><i class="d2">2</i><i class="d0">0</i></b></div>
<div class="c g" style="left:138px;top:1332px;height:47px;line-height:47px"><b><i class="d2">2</i><i class="d1">1</i></b></div>
<div class="c g" style="left:191px;top:1332px;height:47px;line-height:47px"><b><i class="d2">2</i><i class="d2">2</i></b></div>
<div class="c g" style="left:244px;top:1332px;height:47px;line-height:47px"><b><i class="d2">2</i><i class="d3">3</i></b></div>
<div class="c g" style="left:297px;top:1332px;height:47px;line-height:47px"><b><i class="d2">2</i><i class="d4">4</i></b></div>
<div class="c g" style="left:350px;top:1332px;height:47px;line-height:47px"><b><i class="d2">2</i><i class="d5">5</i></b></div>
<div class="c r" style="left:32px;top:1379px;height:47px;line-height:47px"><b><i class="d2">2</i><i class="d6">6</i></b></div>
<div class="c g" style="left:85px;top:1379px;height:47px;line-height:47px"><b><i class="d2">2</i><i class="d7">7</i></b></div>
<div class="c g" style="left:138px;top:1379px;height:47px;line-height:47px"><b><i class="d2">2</i><i class="d8">8</i></b></div>
<div class="c g" style="left:191px;top:1379px;height:47px;line-height:47px"><b><i class="d2">2</i><i class="d9">9</i></b></div>
<div class="c g" style="left:244px;top:1379px;height:47px;line-height:47px"><b><i class="d3">3</i><i class="d0">0</i></b></div>
<div class="c g" style="left:297px;top:1379px;height:47px;line-height:47px"><b><i class="d3">3</i><i class="d1">1</i></b></div>
<div class="t m" style="left:467.5px;top:1116.32px">novembre</div>
<div class="t w w0" style="left:433px;top:1155.83px">LUN</div>
<div class="t w w1" style="left:485.5px;top:1155.83px">MAR</div>
<div class="t w w2" style="left:538px;top:1155.83px">MER</div>
<div class="t w w3" style="left:591px;top:1155.83px">JEU</div>
<div class="t w w4" style="left:644px;top:1155.83px">VEND</div>
<div class="t w w5" style="left:697px;top:1155.83px">SAM</div>
<div class="t w w6" style="left:750px;top:1155.83px">DIM</div>
<div class="c g" style="left:750px;top:1191px;height:47px;line-height:47px"><b><i class="d1">1</i></b></div>
<div class="c r" style="left:432px;top:1238px;height:47px;line-height:47px"><b><i class="d2">2</i></b></div>
<div class="c o" style="left:485px;top:1238px;height:47px;line-height:47px"><b><i class="d3">3</i></b></div>
<div class="c o" style="left:538px;top:1238px;height:47px;line-height:47px"><b><i class="d4">4</i></b></div>
<div class="c o" style="left:591px;top:1238px;height:47px;line-height:47px"><b><i class="d5">5</i></b></div>
<div class="c o" style="left:644px;top:1238px;height:47px;line-height:47px"><b><i class="d6">6</i></b></div>
<div class="c r" style="left:697px;top:1238px;height:47px;line-height:47px"><b><i class="d7">7</i></b></div>
<div class="c r" style="left:750px;top:1238px;height:47px;line-height:47px"><b><i class="d8">8</i></b></div>
<div class="c r" style="left:432px;top:1285px;height:47px;line-height:47px"><b><i class="d9">9</i></b></div>
<div class="c o" style="left:485px;top:1285px;height:47px;line-height:47px"><b><i class="d1" style="margin-right:-0.47px">1</i><i class="d0">0</i></b></div>
<div class="c o" style="left:538px;top:1285px;height:47px;line-height:47px"><b><i class="d1" style="margin-right:1.23px">1</i><i class="d1">1</i></b></div>
<div class="c o" style="left:591px;top:1285px;height:47px;line-height:47px"><b><i class="d1">1</i><i class="d2">2</i></b></div>
<div class="c o" style="left:644px;top:1285px;height:47px;line-height:47px"><b><i class="d1">1</i><i class="d3">3</i></b></div>
<div class="c r" style="left:697px;top:1285px;height:47px;line-height:47px"><b><i class="d1">1</i><i class="d4">4</i></b></div>
<div class="c r" style="left:750px;top:1285px;height:47px;line-height:47px"><b><i class="d1">1</i><i class="d5">5</i></b></div>
<div class="c r" style="left:432px;top:1332px;height:47px;line-height:47px"><b><i class="d1">1</i><i class="d6">6</i></b></div>
<div class="c o" style="left:485px;top:1332px;height:47px;line-height:47px"><b><i class="d1">1</i><i class="d7">7</i></b></div>
<div class="c o" style="left:538px;top:1332px;height:47px;line-height:47px"><b><i class="d1">1</i><i class="d8">8</i></b></div>
<div class="c o" style="left:591px;top:1332px;height:47px;line-height:47px"><b><i class="d1">1</i><i class="d9">9</i></b></div>
<div class="c o" style="left:644px;top:1332px;height:47px;line-height:47px"><b><i class="d2">2</i><i class="d0">0</i></b></div>
<div class="c r" style="left:697px;top:1332px;height:47px;line-height:47px"><b><i class="d2">2</i><i class="d1">1</i></b></div>
<div class="c r" style="left:750px;top:1332px;height:47px;line-height:47px"><b><i class="d2">2</i><i class="d2">2</i></b></div>
<div class="c r" style="left:432px;top:1379px;height:47px;line-height:47px"><b><i class="d2">2</i><i class="d3">3</i></b></div>
<div class="c o" style="left:485px;top:1379px;height:47px;line-height:47px"><b><i class="d2">2</i><i class="d4">4</i></b></div>
<div class="c o" style="left:538px;top:1379px;height:47px;line-height:47px"><b><i class="d2">2</i><i class="d5">5</i></b></div>
<div class="c o" style="left:591px;top:1379px;height:47px;line-height:47px"><b><i class="d2">2</i><i class="d6">6</i></b></div>
<div class="c o" style="left:644px;top:1379px;height:47px;line-height:47px"><b><i class="d2">2</i><i class="d7">7</i></b></div>
<div class="c r" style="left:697px;top:1379px;height:47px;line-height:47px"><b><i class="d2">2</i><i class="d8">8</i></b></div>
<div class="c r" style="left:750px;top:1379px;height:47px;line-height:47px"><b><i class="d2">2</i><i class="d9">9</i></b></div>
<div class="c r" style="left:432px;top:1426px;height:47px;line-height:47px"><b><i class="d3">3</i><i class="d0">0</i></b></div>
<div class="t m" style="left:879px;top:1116.32px">décembre</div>
<div class="t w w0" style="left:833px;top:1155.83px">LUN</div>
<div class="t w w1" style="left:885.5px;top:1155.83px">MAR</div>
<div class="t w w2" style="left:938px;top:1155.83px">MER</div>
<div class="t w w3" style="left:991px;top:1155.83px">JEU</div>
<div class="t w w4" style="left:1044px;top:1155.83px">VEND</div>
<div class="t w w5" style="left:1097px;top:1155.83px">SAM</div>
<div class="t w w6" style="left:1150px;top:1155.83px">DIM</div>
<div class="c o" style="left:885px;top:1191px;height:47px;line-height:47px"><b><i class="d1">1</i></b></div>
<div class="c o" style="left:938px;top:1191px;height:47px;line-height:47px"><b><i class="d2">2</i></b></div>
<div class="c o" style="left:991px;top:1191px;height:47px;line-height:47px"><b><i class="d3">3</i></b></div>
<div class="c o" style="left:1044px;top:1191px;height:47px;line-height:47px"><b><i class="d4">4</i></b></div>
<div class="c r" style="left:1097px;top:1191px;height:47px;line-height:47px"><b><i class="d5">5</i></b></div>
<div class="c r" style="left:1150px;top:1191px;height:47px;line-height:47px"><b><i class="d6">6</i></b></div>
<div class="c r" style="left:832px;top:1238px;height:47px;line-height:47px"><b><i class="d7">7</i></b></div>
<div class="c o" style="left:885px;top:1238px;height:47px;line-height:47px"><b><i class="d8">8</i></b></div>
<div class="c o" style="left:938px;top:1238px;height:47px;line-height:47px"><b><i class="d9">9</i></b></div>
<div class="c o" style="left:991px;top:1238px;height:47px;line-height:47px"><b><i class="d1" style="margin-right:-0.47px">1</i><i class="d0">0</i></b></div>
<div class="c o" style="left:1044px;top:1238px;height:47px;line-height:47px"><b><i class="d1" style="margin-right:1.23px">1</i><i class="d1">1</i></b></div>
<div class="c r" style="left:1097px;top:1238px;height:47px;line-height:47px"><b><i class="d1">1</i><i class="d2">2</i></b></div>
<div class="c r" style="left:1150px;top:1238px;height:47px;line-height:47px"><b><i class="d1">1</i><i class="d3">3</i></b></div>
<div class="c r" style="left:832px;top:1285px;height:47px;line-height:47px"><b><i class="d1">1</i><i class="d4">4</i></b></div>
<div class="c o" style="left:885px;top:1285px;height:47px;line-height:47px"><b><i class="d1">1</i><i class="d5">5</i></b></div>
<div class="c o" style="left:938px;top:1285px;height:47px;line-height:47px"><b><i class="d1">1</i><i class="d6">6</i></b></div>
<div class="c o" style="left:991px;top:1285px;height:47px;line-height:47px"><b><i class="d1">1</i><i class="d7">7</i></b></div>
<div class="c o" style="left:1044px;top:1285px;height:47px;line-height:47px"><b><i class="d1">1</i><i class="d8">8</i></b></div>
<div class="c r" style="left:1097px;top:1285px;height:47px;line-height:47px"><b><i class="d1">1</i><i class="d9">9</i></b></div>
<div class="c r" style="left:1150px;top:1285px;height:47px;line-height:47px"><b><i class="d2">2</i><i class="d0">0</i></b></div>
<div class="c r" style="left:832px;top:1332px;height:47px;line-height:47px"><b><i class="d2">2</i><i class="d1">1</i></b></div>
<div class="c r" style="left:885px;top:1332px;height:47px;line-height:47px"><b><i class="d2">2</i><i class="d2">2</i></b></div>
<div class="c r" style="left:938px;top:1332px;height:47px;line-height:47px"><b><i class="d2">2</i><i class="d3">3</i></b></div>
<div class="c r" style="left:991px;top:1332px;height:47px;line-height:47px"><b><i class="d2">2</i><i class="d4">4</i></b></div>
<div class="c r" style="left:1044px;top:1332px;height:47px;line-height:47px"><b><i class="d2">2</i><i class="d5">5</i></b></div>
<div class="c r" style="left:1097px;top:1332px;height:47px;line-height:47px"><b><i class="d2">2</i><i class="d6">6</i></b></div>
<div class="c r" style="left:1150px;top:1332px;height:47px;line-height:47px"><b><i class="d2">2</i><i class="d7">7</i></b></div>
<div class="c r" style="left:832px;top:1379px;height:47px;line-height:47px"><b><i class="d2">2</i><i class="d8">8</i></b></div>
<div class="c r" style="left:885px;top:1379px;height:47px;line-height:47px"><b><i class="d2">2</i><i class="d9">9</i></b></div>
<div class="c r" style="left:938px;top:1379px;height:47px;line-height:47px"><b><i class="d3">3</i><i class="d0">0</i></b></div>
<div class="c r" style="left:991px;top:1379px;height:47px;line-height:47px"><b><i class="d3">3</i><i class="d1">1</i></b></div>
<div class="s" style="left:191px;top:226px;width:212px"></div>
<div class="s" style="left:32px;top:267px;width:371px"></div>
<div class="s" style="left:32px;top:349px;width:318px"></div>
<div class="s" style="left:750px;top:226px;width:53px"></div>
<div class="s" style="left:432px;top:267px;width:371px"></div>
<div class="s" style="left:432px;top:349px;width:318px"></div>
<div class="s" style="left:1150px;top:226px;width:53px"></div>
<div class="s" style="left:832px;top:267px;width:371px"></div>
<div class="s" style="left:832px;top:349px;width:371px"></div>
<div class="s" style="left:832px;top:390px;width:106px"></div>
<div class="s" style="left:138px;top:551px;width:265px"></div>
<div class="s" style="left:32px;top:592px;width:371px"></div>
<div class="s" style="left:32px;top:633px;width:371px"></div>
<div class="s" style="left:32px;top:674px;width:212px"></div>
<div class="s" style="left:644px;top:551px;width:159px"></div>
<div class="s" style="left:432px;top:592px;width:371px"></div>
<div class="s" style="left:432px;top:633px;width:371px"></div>
<div class="s" style="left:432px;top:674px;width:371px"></div>
<div class="s" style="left:832px;top:551px;width:371px"></div>
<div class="s" style="left:832px;top:592px;width:371px"></div>
<div class="s" style="left:832px;top:633px;width:371px"></div>
<div class="s" style="left:832px;top:674px;width:106px"></div>
<div class="s" style="left:138px;top:881px;width:265px"></div>
<div class="s" style="left:32px;top:1022px;width:265px"></div>
<div class="s" style="left:697px;top:881px;width:106px"></div>
<div class="s" style="left:432px;top:1022px;width:371px"></div>
<div class="s" style="left:432px;top:1070px;width:53px"></div>
<div class="s" style="left:885px;top:881px;width:318px"></div>
<div class="s" style="left:832px;top:1022px;width:159px"></div>
<div class="s" style="left:191px;top:1238px;width:212px"></div>
<div class="s" style="left:32px;top:1332px;width:371px"></div>
<div class="s" style="left:32px;top:1379px;width:318px"></div>
<div class="s" style="left:750px;top:1238px;width:53px"></div>
<div class="s" style="left:432px;top:1332px;width:371px"></div>
<div class="s" style="left:432px;top:1379px;width:371px"></div>
<div class="s" style="left:432px;top:1426px;width:53px"></div>
<div class="s" style="left:885px;top:1238px;width:318px"></div>
<div class="s" style="left:832px;top:1332px;width:371px"></div>
<div class="s" style="left:832px;top:1379px;width:212px"></div>
<div class="lg g" style="top:1519px;height:47px"></div>
<div class="lg o" style="top:1566px;height:48px"></div>
<div class="lg r" style="top:1614px;height:46px"></div>
<div class="t" style="left:77.60px;width:1000px;top:1523.54px;font-size:25px;transform:scaleX(1.018);font-weight:bold">OUVERT sans réservation ( Visites non guidées )</div>
<div class="t" style="left:858.57px;width:60px;top:1526.98px;font-size:24.23px;font-weight:bold;transform:scaleX(0.998);clip-path:inset(0 0 15.08px 0)">1</div>
<div class="t" style="left:869.95px;width:60px;top:1525.76px;font-size:18.6px;transform:scaleX(1.59);-webkit-text-stroke:1.0px #000">0</div>
<div class="t" style="left:887.05px;width:60px;top:1523.54px;font-size:25px;transform:scaleX(0.93);font-weight:bold">H</div>
<div class="t" style="left:909.11px;width:60px;top:1526.98px;font-size:24.23px;font-weight:bold;transform:scaleX(0.957);clip-path:inset(0 0 15.08px 0)">1</div>
<div class="t" style="left:919.45px;width:60px;top:1523.05px;font-size:26.4px;transform:scaleX(0.96);font-weight:bold">8</div>
<div class="t" style="left:935.85px;width:60px;top:1523.54px;font-size:25px;transform:scaleX(0.93);font-weight:bold">H</div>
<div class="t" style="left:2.05px;width:443px;top:1570.53px;font-size:22.7px;transform:scaleX(0.99);font-weight:bold">JOURS RÉSERVÉS AUX</div>
<div class="t" style="left:2.30px;width:825px;top:1570.53px;font-size:22.7px;transform:scaleX(0.93);font-weight:bold;font-style:italic"><u>GROUPES</u></div>
<div class="t" style="left:400.85px;width:837px;top:1571.30px;font-size:20.5px;transform:scaleX(0.943);font-weight:bold">SCOLAIRES, CENTRE DE LOISIRS, EHPAD, PERSONNES HANDICAPÉES...</div>
<div class="t" style="left:129.85px;width:1000px;top:1617.60px;font-size:20.5px;transform:scaleX(1.02);font-weight:bold">FERMÉ</div>
</body></html>
